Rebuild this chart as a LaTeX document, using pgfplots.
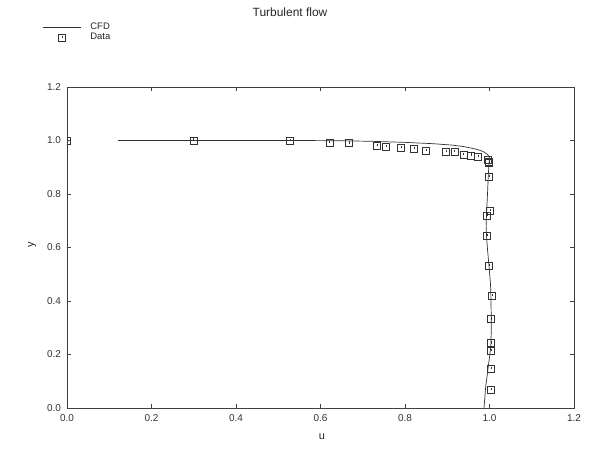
\documentclass[border=0pt]{standalone}
\usepackage{fontspec}
\setmainfont{Liberation Sans}
\usepackage{pgfplots}
\pgfplotsset{compat=1.18}

% square mark with a small stroke inside, like the gnuplot one
\pgfdeclareplotmark{gsq}{%
  \pgfpathrectangle{\pgfpoint{-\pgfplotmarksize}{-\pgfplotmarksize}}{\pgfpoint{2\pgfplotmarksize}{2\pgfplotmarksize}}%
  \pgfpathmoveto{\pgfpoint{0.1\pgfplotmarksize}{0.6\pgfplotmarksize}}%
  \pgfpathlineto{\pgfpoint{0.1\pgfplotmarksize}{-0.1\pgfplotmarksize}}%
  \pgfusepathqstroke}

\pgfplotsset{
  cfdleg/.style={legend image code/.code={\draw[##1] (0bp,0bp) -- (38bp,0bp);}},
  dataleg/.style={legend image code/.code={\draw[##1] plot coordinates {(19bp,0bp)};}},
}

\begin{document}
\begin{tikzpicture}
\path[use as bounding box] (0,0) rectangle (600bp,449bp);
\node[font=\fontsize{12}{14}\selectfont, text=black!85] at (290bp,437bp) {Turbulent flow};
\begin{axis}[
    at={(67bp,41bp)}, anchor=south west,
    scale only axis,
    width=507bp, height=321bp,
    xmin=0, xmax=1.2, ymin=0, ymax=1.2,
    xtick={0,0.2,...,1.2}, ytick={0,0.2,...,1.2},
    tick align=inside,
    major tick length=4bp,
    axis line style={black!75, line width=0.7pt},
    tick style={black!75, line width=0.6pt},
    /pgf/number format/assume math mode=true,
    /pgf/number format/.cd, fixed, fixed zerofill, precision=1, /pgfplots/.cd,
    tick label style={font=\fontsize{10}{12}\selectfont, text=black!80},
    xticklabel style={yshift=-3bp},
    yticklabel style={xshift=-2.5bp},
    xlabel={u}, ylabel={y},
    label style={font=\fontsize{11}{13}\selectfont, text=black!85},
    xlabel style={at={(axis description cs:0.503,0)}, anchor=center, yshift=-29bp},
    ylabel style={at={(axis description cs:-0.069,0.508)}, anchor=center},
    clip marker paths=true,
    legend style={at={(axis description cs:-0.0493,1.2035)}, anchor=north west,
      draw=none, fill=none, inner sep=0pt, row sep=0pt,
      font=\fontsize{9.5}{11}\selectfont,
      nodes={inner ysep=0pt, inner xsep=0pt, text height=7.5bp, text depth=3bp, text=black!85},
      /tikz/every odd column/.append style={column sep=9.5bp}},
    legend cell align=left,
]
\addplot[black!80, line width=0.7pt, cfdleg] coordinates {
    (0.121,1.000) (0.550,1.000) (0.650,0.999) (0.720,0.997) (0.800,0.993)
    (0.867,0.988) (0.910,0.983) (0.940,0.977) (0.962,0.970) (0.978,0.963)
    (0.988,0.956) (0.995,0.948) (0.999,0.940) (1.000,0.930)
    (0.999,0.917) (0.997,0.865) (0.995,0.790) (0.993,0.728) (0.992,0.680)
    (0.993,0.640) (0.996,0.580) (0.999,0.528) (1.002,0.470) (1.003,0.441)
    (1.004,0.350) (1.004,0.280) (1.003,0.229) (1.000,0.190)
    (0.997,0.154) (0.994,0.115) (0.991,0.080) (0.989,0.040) (0.987,0.000)
};
\addlegendentry{CFD}
\addplot[only marks, mark=gsq, mark size=3.5bp, black!80,
    mark options={line width=0.6pt, fill=none}, dataleg] coordinates {
    (0.000,1.000) (0.299,1.000) (0.528,0.999) (0.621,0.992) (0.667,0.990)
    (0.734,0.979) (0.755,0.977) (0.790,0.972) (0.821,0.969) (0.849,0.962)
    (0.896,0.957) (0.917,0.957) (0.938,0.947) (0.955,0.944) (0.972,0.939)
    (0.997,0.927) (0.998,0.922) (0.999,0.915) (0.999,0.865) (1.000,0.736)
    (0.994,0.720) (0.993,0.643) (0.998,0.532) (1.005,0.419) (1.004,0.332)
    (1.004,0.242) (1.004,0.214) (1.003,0.147) (1.004,0.067)
};
\addlegendentry{Data}
\end{axis}
\end{tikzpicture}
\end{document}
